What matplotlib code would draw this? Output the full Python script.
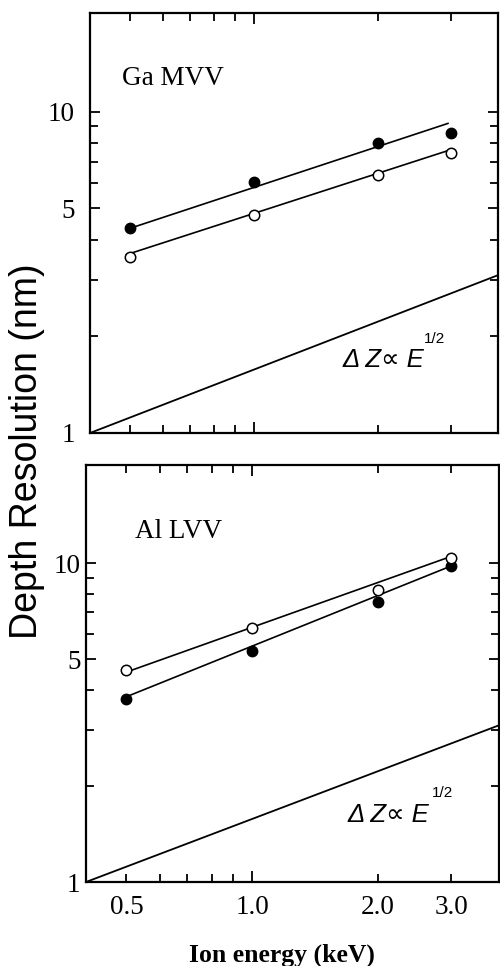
import matplotlib
matplotlib.use("Agg")
import matplotlib.pyplot as plt

# Ion energy (keV) at which depth resolution was measured
energy = [0.5, 1.0, 2.0, 3.0]

# Ga MVV depth resolution (nm)
ga_filled = [4.35, 6.05, 8.0, 8.6]
ga_open = [3.53, 4.78, 6.36, 7.45]
# fitted lines for Ga (energy, nm)
ga_fit_energy = [0.49, 2.95]
ga_fit_filled = [4.3, 9.2]
ga_fit_open = [3.59, 7.57]

# Al LVV depth resolution (nm)
al_filled = [3.75, 5.3, 7.55, 9.8]
al_open = [4.62, 6.25, 8.23, 10.4]
al_fit_energy = [0.49, 3.0]
al_fit_filled = [3.77, 9.8]
al_fit_open = [4.51, 10.5]

# reference square-root law, Delta Z proportional to E^(1/2)
ref_energy = [0.4, 3.9]
ref_values = [1.0, 3.1]

x_ticks = [0.5, 0.6, 0.7, 0.8, 0.9, 2.0, 3.0]
x_tick_labels = ["0.5", "", "", "", "", "2.0", "3.0"]

SERIF = "Liberation Serif"
SANS = ["Liberation Sans", "DejaVu Sans"]

fig = plt.figure(figsize=(5.0, 9.66), dpi=100)

W, H = 500.0, 966.0


def make_axes(left, right, top, bottom):
    return fig.add_axes([left / W, 1 - bottom / H, (right - left) / W, (bottom - top) / H])


ax_top = make_axes(90, 498, 13, 433)
ax_bot = make_axes(86, 499, 465, 882)


def style(ax, show_xlabels, ypad):
    ax.set_xscale("log")
    ax.set_yscale("log")
    ax.set_xlim(0.4, 3.9)
    ax.set_ylim(1, 20.3)
    for s in ax.spines.values():
        s.set_linewidth(1.6)
    ax.set_xticks([1.0], labels=["1.0"] if show_xlabels else [""])
    ax.set_xticks(x_ticks, labels=x_tick_labels if show_xlabels else [""] * len(x_ticks), minor=True)
    ax.set_yticks([1, 5, 10], labels=["1", "5", "10"])
    ax.set_yticks([2, 3, 4, 6, 7, 8, 9], labels=[""] * 7, minor=True)
    ax.tick_params(which="both", direction="in", top=True, right=True, width=1.3,
                   labelsize=19.5, pad=9)
    ax.tick_params(which="major", length=8)
    ax.tick_params(which="minor", length=5.5)
    ax.tick_params(axis="y", which="major", length=7, pad=ypad)
    for lab in ax.get_xticklabels(which="both") + ax.get_yticklabels(which="both"):
        lab.set_fontfamily(SERIF)


def draw(ax, filled, opened, fit_e, fit_f, fit_o, name, tpos, rpos, spos):
    ax.plot(ref_energy, ref_values, color="black", lw=1.3)
    ax.plot(fit_e, fit_f, color="black", lw=1.2)
    ax.plot(fit_e, fit_o, color="black", lw=1.2)
    ax.plot(energy, filled, "o", color="black", ms=7.5, zorder=5)
    ax.plot(energy, opened, "o", mfc="white", mec="black", mew=1.1, ms=7.5, zorder=5)
    ax.text(tpos[0], tpos[1], name, transform=ax.transAxes, fontsize=19.5,
            family=SERIF, va="baseline", ha="left")
    ax.text(rpos[0], rpos[1], "Δ Z∝ E", transform=ax.transAxes, fontsize=18.5,
            family=SANS, style="italic", va="baseline", ha="left")
    ax.text(spos[0], spos[1], "1/2", transform=ax.transAxes, fontsize=11,
            family=SANS, va="center", ha="left")


style(ax_top, False, 11)
style(ax_bot, True, 4)

draw(ax_top, ga_filled, ga_open, ga_fit_energy, ga_fit_filled, ga_fit_open,
     "Ga MVV", (0.078, 0.829), (0.618, 0.157), (0.818, 0.224))
draw(ax_bot, al_filled, al_open, al_fit_energy, al_fit_filled, al_fit_open,
     "Al LVV", (0.119, 0.825), (0.632, 0.144), (0.837, 0.213))

fig.text(27 / W, 1 - 451 / H, "Depth Resolution (nm)", rotation=90, fontsize=27,
         family=SANS, ha="center", va="center")
fig.text(282 / W, 1 - 955 / H, "Ion energy (keV)", fontsize=18.5, family=SERIF,
         weight="bold", ha="center", va="center")

fig.savefig("out.png", dpi=100)
